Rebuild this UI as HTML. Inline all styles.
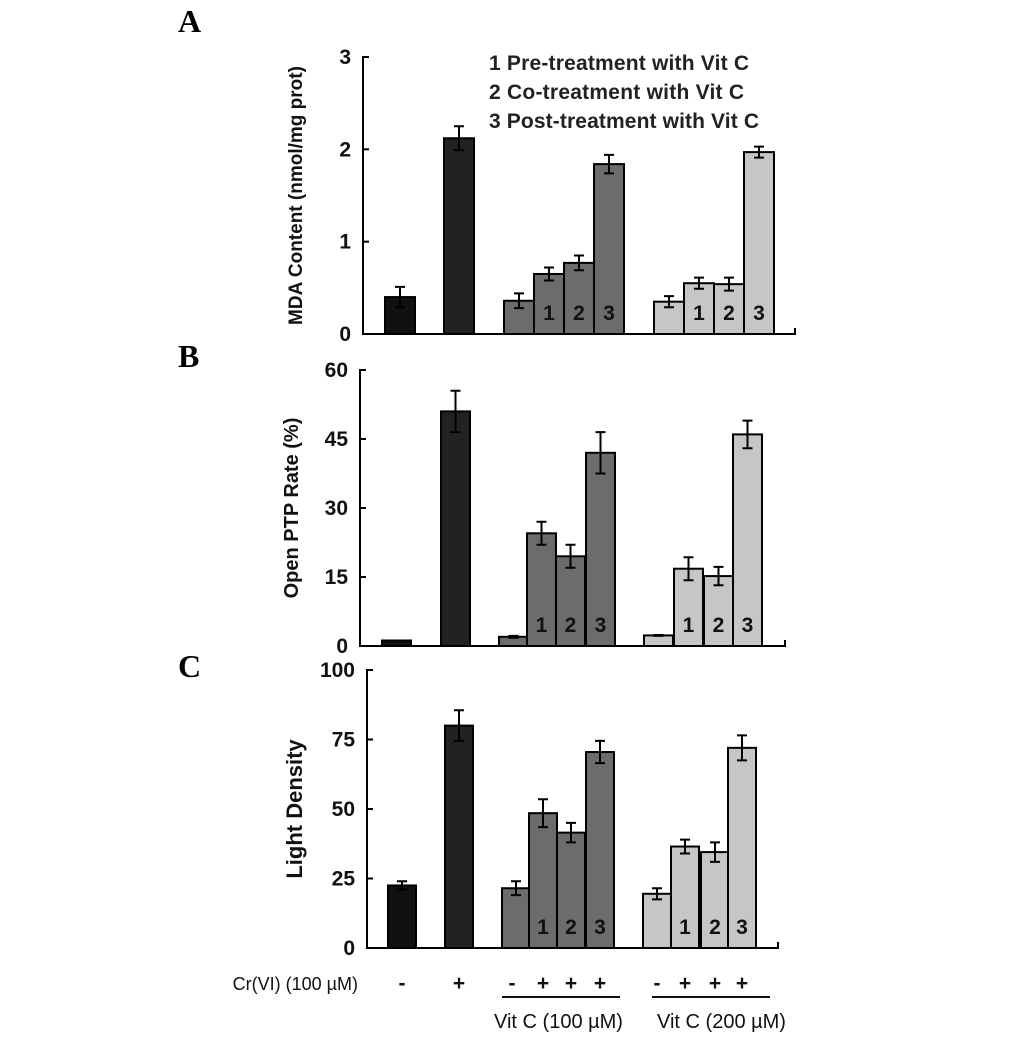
<!DOCTYPE html>
<html><head><meta charset="utf-8"><style>
body{margin:0;background:#fff;}
svg{display:block;font-family:"Liberation Sans",sans-serif;}
</style></head><body>
<svg id="fig" width="1033" height="1040" viewBox="0 0 1033 1040">
<text x="178" y="32" font-family="Liberation Serif" font-weight="bold" font-size="32">A</text>
<text x="178" y="367" font-family="Liberation Serif" font-weight="bold" font-size="32">B</text>
<text x="178" y="677" font-family="Liberation Serif" font-weight="bold" font-size="32">C</text>
<g font-size="21" fill="#222" font-weight="bold">
<text x="489" y="70" textLength="260">1 Pre-treatment with Vit C</text>
<text x="489" y="99" textLength="255">2 Co-treatment with Vit C</text>
<text x="489" y="128" textLength="270">3 Post-treatment with Vit C</text>
</g>
<g font-size="18" fill="#111">
<text x="358" y="990" text-anchor="end">Cr(VI) (100 µM)</text>
<line x1="502" y1="997" x2="620" y2="997" stroke="#111" stroke-width="2"/>
<line x1="652" y1="997" x2="770" y2="997" stroke="#111" stroke-width="2"/>
<text x="494" y="1028" font-size="20">Vit C (100 µM)</text>
<text x="657" y="1028" font-size="20">Vit C (200 µM)</text>
</g>
</svg>
<script>
const NS="http://www.w3.org/2000/svg";
const svg=document.getElementById('fig');
const mdaValues=[0.40,2.12,0.36,0.65,0.77,1.84,0.35,0.55,0.54,1.97];
const mdaErrors=[0.11,0.13,0.08,0.07,0.08,0.10,0.06,0.06,0.07,0.06];
const ptpValues=[1.2,51,2,24.5,19.5,42,2.3,16.8,15.2,46];
const ptpErrors=[0,4.5,0.2,2.5,2.5,4.5,0.1,2.5,2,3];
const ldValues=[22.5,80,21.5,48.5,41.5,70.5,19.5,36.5,34.5,72];
const ldErrors=[1.5,5.5,2.5,5,3.5,4,2,2.5,3.5,4.5];
const mdaTicks=[0,1,2,3];
const ptpTicks=[0,15,30,45,60];
const ldTicks=[0,25,50,75,100];
const crSigns=['-','+','-','+','+','+','-','+','+','+'];
const barLabels=['','','','1','2','3','','1','2','3'];
const colors=['#111','#222','#6c6c6c','#6c6c6c','#6c6c6c','#6c6c6c','#c6c6c6','#c6c6c6','#c6c6c6','#c6c6c6'];
function el(t,a){const e=document.createElementNS(NS,t);for(const k in a)e.setAttribute(k,a[k]);return e;}
const panels=[
 {key:'mda',vals:mdaValues,errs:mdaErrors,ticks:mdaTicks,max:3,ax:363,y0:334,y1:57,xend:795,title:'MDA Content (nmol/mg prot)',tx:302,fs:19,
  lefts:[385,444,504,534,564,594,654,684,714,744],w:30},
 {key:'ptp',vals:ptpValues,errs:ptpErrors,ticks:ptpTicks,max:60,ax:360,y0:646,y1:370,xend:785,title:'Open PTP Rate (%)',tx:298,fs:20,
  lefts:[382,441,499,527,556,586,644,674,704,733],w:29},
 {key:'ld',vals:ldValues,errs:ldErrors,ticks:ldTicks,max:100,ax:367,y0:948,y1:670,xend:778,title:'Light Density',tx:302,fs:22,
  lefts:[388,445,502,529,557,586,643,671,701,728],w:28}
];
panels.forEach(p=>{
 const g=el('g',{});
 
 
 svg.appendChild(g);
 const y=v=>p.y0-(v/p.max)*(p.y0-p.y1);
 p.vals.forEach((v,i)=>{
  const x=p.lefts[i];
  const r=el('rect',{x:x,y:y(v),width:p.w,height:p.y0-y(v),fill:colors[i],stroke:'#000','stroke-width':2});
  
  
  g.appendChild(r);
  const cx=x+p.w/2,e=p.errs[i];
  if(e>0){
   const eb=el('path',{d:`M${cx} ${y(v+e)}V${y(v-e)}M${cx-5} ${y(v+e)}H${cx+5}M${cx-5} ${y(v-e)}H${cx+5}`,stroke:'#000','stroke-width':2,fill:'none'});
   
   
   g.appendChild(eb);
  }
  if(barLabels[i]){
   const t=el('text',{x:cx,y:p.y0-14,'text-anchor':'middle','font-size':21,'font-weight':'bold',fill:'#111'});
   t.textContent=barLabels[i];
   
   
   g.appendChild(t);
  }
 });
 const ax=el('path',{d:`M${p.ax+6} ${p.y1}H${p.ax}V${p.y0}H${p.xend}V${p.y0-6}`,stroke:'#000','stroke-width':2,fill:'none'});
 
 
 g.appendChild(ax);
 p.ticks.forEach(tv=>{
  const tk=el('line',{x1:p.ax,x2:p.ax+6,y1:y(tv),y2:y(tv),stroke:'#000','stroke-width':2});
  
  
  g.appendChild(tk);
  const t=el('text',{x:p.ax-12,y:y(tv)+7,'text-anchor':'end','font-size':21,'font-weight':'bold',fill:'#111'});
  t.textContent=tv;
  
  
  g.appendChild(t);
 });
 const cy=(p.y0+p.y1)/2;
 const tt=el('text',{x:p.tx,y:cy,'text-anchor':'middle','font-size':p.fs,'font-weight':'bold',fill:'#111',transform:`rotate(-90 ${p.tx} ${cy})`});
 tt.textContent=p.title;
 
 
 g.appendChild(tt);
});
const pc=panels[2];
crSigns.forEach((s,i)=>{
 const t=el('text',{x:pc.lefts[i]+pc.w/2+(i===2?-4:0),y:990,'text-anchor':'middle','font-size':21,'font-weight':'bold',fill:'#111'});
 t.textContent=s;
 
 
 svg.appendChild(t);
});
</script>
</body></html>
